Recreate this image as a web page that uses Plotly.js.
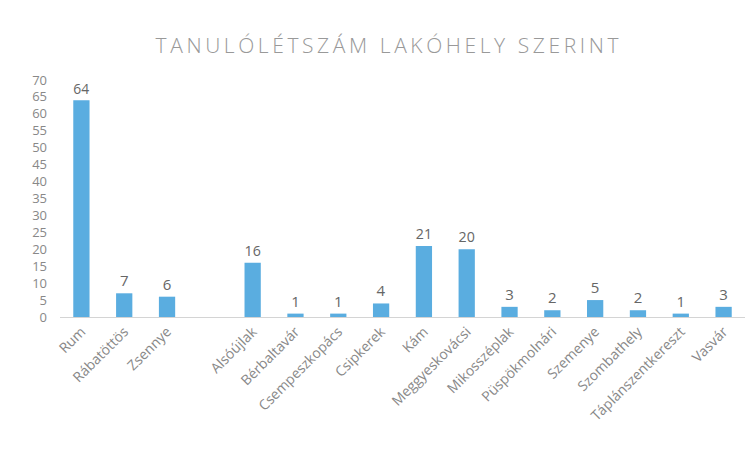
<!DOCTYPE html>
<html>
<head>
<meta charset="utf-8">
<script src="https://cdn.plot.ly/plotly-3.0.1.min.js"></script>
<style>
html,body{margin:0;padding:0;background:#fff;}
#chart{width:755px;height:457px;}
.gtitle{letter-spacing:3.6px;}
</style>
</head>
<body>
<div id="chart"></div>
<script>
const categories = ["Rum","Rábatöttös","Zsennye"," ","Alsóújlak","Bérbaltavár","Csempeszkopács","Csipkerek","Kám","Meggyeskovácsi","Mikosszéplak","Püspökmolnári","Szemenye","Szombathely","Táplánszentkereszt","Vasvár"];
const values = [64,7,6,null,16,1,1,4,21,20,3,2,5,2,1,3];
const labels = values.map(v => v === null ? "" : String(v));
const yTicks = [0,5,10,15,20,25,30,35,40,45,50,55,60,65,70];

const trace = {
  type: "bar",
  x: categories,
  y: values,
  text: labels,
  textposition: "outside",
  cliponaxis: false,
  textfont: {family: "Open Sans, sans-serif", size: 15, color: "#666"},
  marker: {color: "#5aade0", line: {width: 0}},
  hoverinfo: "none"
};

const layout = {
  width: 755, height: 457,
  margin: {l: 60, r: 10, t: 80, b: 140},
  paper_bgcolor: "#fff", plot_bgcolor: "#fff",
  bargap: 0.62,
  showlegend: false,
  title: {
    text: "TANULÓLÉTSZÁM LAKÓHELY SZERINT",
    font: {family: "Open Sans, sans-serif", size: 21, color: "#999", weight: 300},
    x: 0.515, xanchor: "center", y: 0.9, yanchor: "middle"
  },
  xaxis: {
    type: "category",
    tickangle: -45,
    tickfont: {family: "Open Sans, sans-serif", size: 14, color: "#888"},
    showline: true, linecolor: "#d4d4d4", linewidth: 1,
    showgrid: false, ticks: "", automargin: false
  },
  yaxis: {
    range: [0, 70],
    tickvals: yTicks,
    ticktext: yTicks.map(String),
    tickfont: {family: "Open Sans, sans-serif", size: 13, color: "#888"},
    showgrid: false, zeroline: false, showline: false, ticks: "",
    automargin: false, ticklabelstandoff: 12
  }
};

Plotly.newPlot("chart", [trace], layout, {displayModeBar: false, staticPlot: true});
</script>
</body>
</html>
